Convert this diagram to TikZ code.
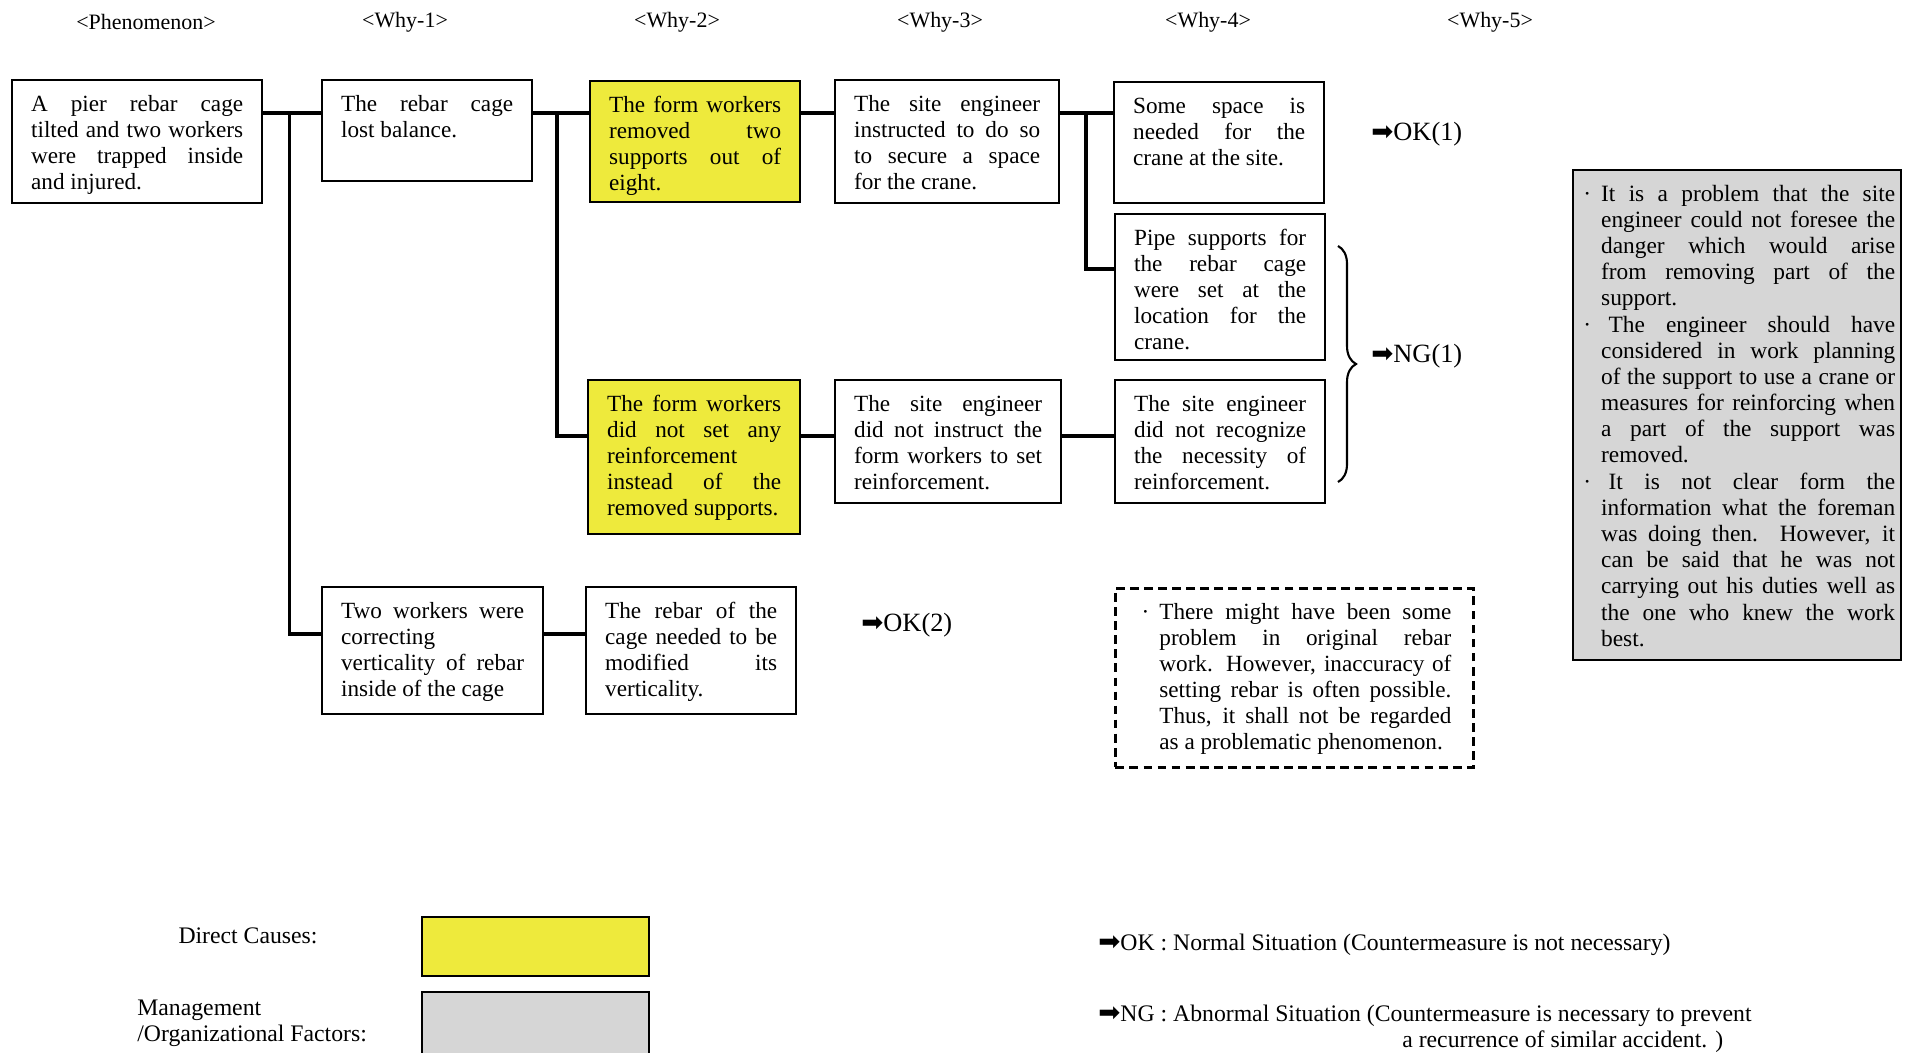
\documentclass[tikz,border=0pt]{standalone}
\usepackage{fontspec}
\setmainfont{Liberation Serif}
\newfontfamily\arrowfont{DejaVu Sans}
\usepackage{xcolor}
\usepackage{tikz}
\usetikzlibrary{decorations.pathreplacing}
\definecolor{CauseYellow}{HTML}{EEEA3C}
\definecolor{FactorGray}{HTML}{D6D6D6}
\hbadness=10000
\newcommand{\boxfont}{\fontsize{13.2}{14.8}\selectfont}
\newcommand{\okarrow}{{\arrowfont\fontsize{15}{15}\selectfont ➡}}
\newcommand{\bmark}{\leavevmode\llap{·\hspace{0.2cm}}}
\tikzset{
  why/box/.style={draw, line width=1.3pt, fill=white, anchor=north west, align=justify, font=\boxfont,
    inner xsep=0.38cm, inner ysep=0.25cm, text height=0.37cm},
  why/cause/.style={why/box, fill=CauseYellow},
  why/factor/.style={why/box, fill=FactorGray, inner xsep=0.12cm, font=\fontsize{13.3}{14.9}\selectfont},
  why/note/.style={why/box, line width=1.6pt, dash pattern=on 5pt off 3pt, inner xsep=0.44cm},
  why/head/.style={font=\fontsize{12.5}{14}\selectfont},
  why/link/.style={line width=2.2pt},
  why/verdict/.style={anchor=west, inner sep=0pt, font=\fontsize{15}{17}\selectfont},
  why/legend/.style={inner sep=0pt, font=\fontsize{13.5}{14.8}\selectfont},
  why/key/.style={draw, line width=1.3pt, anchor=north west, inner sep=0pt, minimum width=4.54cm},
  why/brace/.style={decorate, decoration={brace, amplitude=0.36cm}, line width=1.2pt}
}

\begin{document}
\begin{tikzpicture}
  \useasboundingbox (0,0) rectangle (38.14,-21.04);
  \clip (0,0) rectangle (38.14,-21.04);

  % column headings
  \node[why/head] (hPhen) at (2.92,-0.44) {<Phenomenon>};
  \node[why/head] (hWhy1) at (8.10,-0.44) {<Why-1>};
  \node[why/head] (hWhy2) at (13.54,-0.44) {<Why-2>};
  \node[why/head] (hWhy3) at (18.80,-0.44) {<Why-3>};
  \node[why/head] (hWhy4) at (24.16,-0.44) {<Why-4>};
  \node[why/head] (hWhy5) at (29.80,-0.44) {<Why-5>};

  % why chain
  \node[why/box, text width=4.24cm, text depth=1.59cm] (phen) at (0.22,-1.58)
    {A pier rebar cage\linebreak tilted and two workers\linebreak were trapped inside\linebreak and injured.};
  \node[why/box, text width=3.44cm, text depth=1.15cm] (why1a) at (6.42,-1.58)
    {The rebar cage\linebreak lost balance.};
  \node[why/cause, text width=3.44cm, text depth=1.55cm] (why2a) at (11.78,-1.60)
    {The form workers\linebreak removed two\linebreak supports out of\linebreak eight.};
  \node[why/box, text width=3.72cm, text depth=1.59cm] (why3a) at (16.68,-1.58)
    {The site engineer\linebreak instructed to do so\linebreak to secure a space\linebreak for the crane.};
  \node[why/box, text width=3.44cm, text depth=1.55cm] (why4a) at (22.26,-1.62)
    {Some space is\linebreak needed for the\linebreak crane at the site.};
  \node[why/box, text width=3.44cm, text depth=2.05cm] (why4b) at (22.28,-4.26)
    {Pipe supports for\linebreak the rebar cage\linebreak were set at the\linebreak location for the\linebreak crane.};
  \node[why/cause, text width=3.48cm, text depth=2.21cm] (why2b) at (11.74,-7.58)
    {The form workers\linebreak did not set any\linebreak reinforcement\linebreak instead of the\linebreak removed supports.};
  \node[why/box, text width=3.76cm, text depth=1.59cm] (why3b) at (16.68,-7.58)
    {The site engineer\linebreak did not instruct the\linebreak form workers to set\linebreak reinforcement.};
  \node[why/box, text width=3.44cm, text depth=1.59cm] (why4c) at (22.28,-7.58)
    {The site engineer\linebreak did not recognize\linebreak the necessity of\linebreak reinforcement.};
  \node[why/box, text width=3.66cm, text depth=1.67cm] (why1b) at (6.42,-11.72)
    {Two workers were\linebreak correcting\linebreak verticality of rebar\linebreak inside of the cage};
  \node[why/box, text width=3.44cm, text depth=1.67cm] (why2c) at (11.70,-11.72)
    {The rebar of the\linebreak cage needed to be\linebreak modified its\linebreak verticality.};

  \node[why/note, text width=6.28cm, text depth=2.71cm] (remark) at (22.28,-11.74)
    {\leftskip=0.44cm\bmark There might have been some\linebreak problem in original rebar\linebreak work. However, inaccuracy of\linebreak setting rebar is often possible.\linebreak Thus, it shall not be regarded\linebreak as a problematic phenomenon.\par};
  \node[why/factor, text width=6.32cm, text depth=8.93cm] (mgmt) at (31.44,-3.38)
    {\leftskip=0.44cm\bmark It is a problem that the site\linebreak engineer could not foresee the\linebreak danger which would arise\linebreak from removing part of the\linebreak support.\par
     \bmark\hspace{0.15cm}The engineer should have\linebreak considered in work planning\linebreak of the support to use a crane or\linebreak measures for reinforcing when\linebreak a part of the support was\linebreak removed.\par
     \bmark\hspace{0.15cm}It is not clear form the\linebreak information what the foreman\linebreak was doing then. However, it\linebreak can be said that he was not\linebreak carrying out his duties well as\linebreak the one who knew the work\linebreak best.\par};

  % connectors
  \coordinate (j1) at (5.79,-2.26);
  \coordinate (j2) at (11.14,-2.26);
  \coordinate (j3) at (21.72,-2.26);
  \coordinate (r2) at (0,-8.72);
  \coordinate (r3) at (0,-12.68);
  \coordinate (r4) at (0,-5.38);
  \draw[why/link] (phen.east |- j1) -- (why1a.west |- j1);
  \draw[why/link] (why1a.east |- j1) -- (why2a.west |- j1);
  \draw[why/link] (why2a.east |- j1) -- (why3a.west |- j1);
  \draw[why/link] (why3a.east |- j1) -- (why4a.west |- j1);
  \draw[why/link] (j1) |- (why1b.west |- r3);
  \draw[why/link] (why1b.east |- r3) -- (why2c.west |- r3);
  \draw[why/link] (j2) |- (why2b.west |- r2);
  \draw[why/link] (why2b.east |- r2) -- (why3b.west |- r2);
  \draw[why/link] (why3b.east |- r2) -- (why4c.west |- r2);
  \draw[why/link] (j3) |- (why4b.west |- r4);

  % verdicts
  \coordinate (brTop) at (26.76,-4.92);
  \coordinate (brBot) at (26.76,-9.64);
  \draw[why/brace] (brTop) -- (brBot);
  \node[why/verdict] (ok1) at (27.42,-2.68) {\okarrow OK(1)};
  \node[why/verdict] (ng1) at (27.42,-7.12) {\okarrow NG(1)};
  \node[why/verdict] (ok2) at (17.22,-12.50) {\okarrow OK(2)};

  % legend
  \node[why/legend] (lDirect) at (4.96,-18.72) {Direct Causes:};
  \node[why/legend, anchor=west, align=left] (lMgmt) at (2.74,-20.46) {Management\\/Organizational Factors:};
  \node[why/key, fill=CauseYellow, minimum height=1.18cm] (kDirect) at (8.42,-18.32) {};
  \node[why/key, fill=FactorGray, minimum height=1.6cm] (kMgmt) at (8.42,-19.82) {};
  \node[why/legend, anchor=west] (lOK) at (21.96,-18.90) {\okarrow OK : Normal Situation (Countermeasure is not necessary)};
  \node[why/legend, anchor=west, align=left] (lNG) at (21.96,-20.57)
    {\okarrow NG : Abnormal Situation (Countermeasure is necessary to prevent\\\hspace*{6.08cm}a recurrence of similar accident. )};
\end{tikzpicture}
\end{document}
